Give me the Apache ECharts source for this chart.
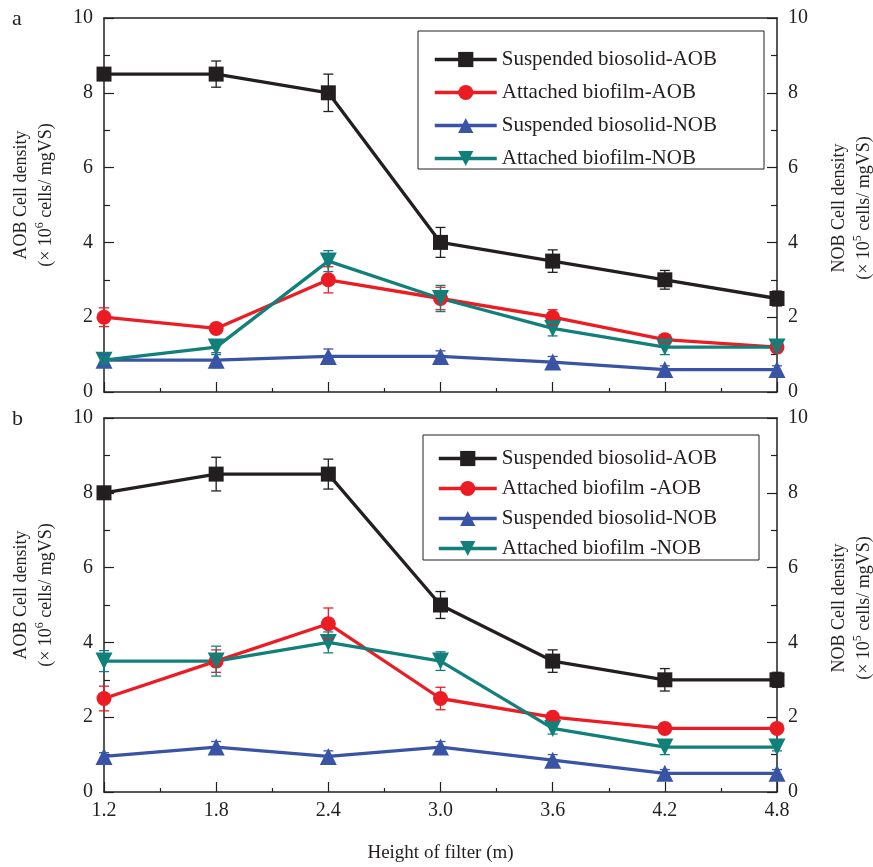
<!DOCTYPE html>
<html>
<head>
<meta charset="utf-8">
<script src="https://cdn.jsdelivr.net/npm/echarts@6/dist/echarts.min.js"></script>
<style>
html,body{margin:0;padding:0;background:#fff;}
#chart{width:873px;height:867px;}
</style>
</head>
<body>
<div id="chart"></div>
<script>
// ---- data ----
const heights = [1.2, 1.8, 2.4, 3.0, 3.6, 4.2, 4.8];
const yTicks = [0, 2, 4, 6, 8, 10];

const namesA = ['Suspended biosolid-AOB', 'Attached biofilm-AOB', 'Suspended biosolid-NOB', 'Attached biofilm-NOB'];
const namesB = ['Suspended biosolid-AOB', 'Attached biofilm -AOB', 'Suspended biosolid-NOB', 'Attached biofilm -NOB'];

// panel a
const a_suspAOB = [8.5, 8.5, 8.0, 4.0, 3.5, 3.0, 2.5];
const a_suspAOB_err = [0.1, 0.35, 0.5, 0.4, 0.3, 0.25, 0.2];
const a_attAOB = [2.0, 1.7, 3.0, 2.5, 2.0, 1.4, 1.2];
const a_attAOB_err = [0.25, 0.1, 0.35, 0.3, 0.2, 0.1, 0.1];
const a_suspNOB = [0.85, 0.85, 0.95, 0.95, 0.8, 0.6, 0.6];
const a_suspNOB_err = [0.15, 0.2, 0.2, 0.15, 0.15, 0.1, 0.1];
const a_attNOB = [0.85, 1.2, 3.5, 2.5, 1.7, 1.2, 1.2];
const a_attNOB_err = [0.1, 0.2, 0.28, 0.35, 0.2, 0.2, 0.1];

// panel b
const b_suspAOB = [8.0, 8.5, 8.5, 5.0, 3.5, 3.0, 3.0];
const b_suspAOB_err = [0.1, 0.45, 0.4, 0.36, 0.3, 0.3, 0.2];
const b_attAOB = [2.5, 3.5, 4.5, 2.5, 2.0, 1.7, 1.7];
const b_attAOB_err = [0.33, 0.3, 0.42, 0.3, 0.1, 0.1, 0.1];
const b_suspNOB = [0.95, 1.2, 0.95, 1.2, 0.85, 0.5, 0.5];
const b_suspNOB_err = [0.1, 0.15, 0.15, 0.15, 0.15, 0.1, 0.1];
const b_attNOB = [3.5, 3.5, 4.0, 3.5, 1.7, 1.2, 1.2];
const b_attNOB_err = [0.28, 0.4, 0.28, 0.25, 0.15, 0.2, 0.1];

// ---- styling ----
const FONT = '"Liberation Serif", "Times New Roman", serif';
const INK = '#231f20';
const C_BLACK = '#231f20', C_RED = '#ec1c24', C_BLUE = '#3a54a5', C_TEAL = '#11807a';

function pairs(vals) { return heights.map((h, i) => [h, vals[i]]); }

function lineSeries(name, xi, yi, vals, color, symbol, size, rotate) {
  return {
    type: 'line', name: name, xAxisIndex: xi, yAxisIndex: yi,
    data: pairs(vals), symbol: symbol, symbolSize: size, symbolRotate: rotate || 0,
    showSymbol: true, clip: false,
    lineStyle: { color: color, width: 3.3 },
    itemStyle: { color: color, borderWidth: 0 },
    emphasis: { disabled: true }, z: 2
  };
}

function errSeries(xi, yi, vals, errs, color) {
  return {
    type: 'custom', xAxisIndex: xi, yAxisIndex: yi, silent: true, z: 3, clip: false,
    data: heights.map((h, i) => [h, vals[i] - errs[i], vals[i] + errs[i]]),
    encode: { x: 0, y: [1, 2] },
    renderItem: function (params, api) {
      const x = api.value(0);
      const lo = api.coord([x, api.value(1)]);
      const hi = api.coord([x, api.value(2)]);
      const w = 5;
      const st = { stroke: color, lineWidth: 1.3 };
      return {
        type: 'group', children: [
          { type: 'line', shape: { x1: lo[0], y1: lo[1], x2: hi[0], y2: hi[1] }, style: st },
          { type: 'line', shape: { x1: lo[0] - w, y1: lo[1], x2: lo[0] + w, y2: lo[1] }, style: st },
          { type: 'line', shape: { x1: hi[0] - w, y1: hi[1], x2: hi[0] + w, y2: hi[1] }, style: st }
        ]
      };
    }
  };
}

function xAxisBottom(gi, showLabels) {
  return {
    type: 'value', gridIndex: gi, position: 'bottom', min: 1.2, max: 4.8, interval: 0.6,
    axisLine: { show: true, onZero: false, lineStyle: { color: INK, width: 1.5 } },
    axisTick: { show: true, inside: true, length: 10, lineStyle: { color: INK, width: 1.2 } },
    minorTick: { show: true, splitNumber: 2, length: 4, lineStyle: { color: INK, width: 1.2 } },
    splitLine: { show: false }, minorSplitLine: { show: false },
    axisLabel: { show: showLabels, margin: 9, fontFamily: FONT, fontSize: 20, color: INK,
      formatter: v => Number(v).toFixed(1) },
    name: showLabels ? 'Height of filter (m)' : '',
    nameLocation: 'middle', nameGap: 52,
    nameTextStyle: { fontFamily: FONT, fontSize: 19, color: INK }
  };
}
function xAxisTop(gi) {
  return {
    type: 'value', gridIndex: gi, position: 'top', min: 1.2, max: 4.8, interval: 0.6,
    axisLine: { show: true, onZero: false, lineStyle: { color: INK, width: 1.5 } },
    axisTick: { show: false }, axisLabel: { show: false }, splitLine: { show: false }
  };
}
function yAxis(gi, pos) {
  return {
    type: 'value', gridIndex: gi, position: pos, min: yTicks[0], max: yTicks[yTicks.length - 1], interval: 2,
    axisLine: { show: true, onZero: false, lineStyle: { color: INK, width: 1.5 } },
    axisTick: { show: true, inside: true, length: 10, lineStyle: { color: INK, width: 1.2 } },
    minorTick: { show: true, splitNumber: 2, length: 6, lineStyle: { color: INK, width: 1.2 } },
    splitLine: { show: false }, minorSplitLine: { show: false },
    axisLabel: { show: true, margin: 11, fontFamily: FONT, fontSize: 20, color: INK }
  };
}

function legendBox(names, top, left, pad, gap, itemWidth, fs) {
  return {
    data: names, orient: 'vertical', left: left, top: top,
    padding: pad, itemGap: gap, itemWidth: itemWidth, itemHeight: 19,
    borderColor: INK, borderWidth: 1, backgroundColor: '#fff',
    selectedMode: false,
    lineStyle: { width: 3.5 },
    textStyle: { fontFamily: FONT, fontSize: fs, color: INK, lineHeight: 21 }
  };
}

function yTitle(x, y, axisName, exp) {
  return {
    type: 'text', x: x, y: y, rotation: Math.PI / 2,
    style: {
      text: '{a|' + axisName + ' Cell density}\n{a|(× 10}{s|' + exp + '}{a| cells/ mgVS)}',
      align: 'center', verticalAlign: 'middle', fill: INK,
      rich: {
        a: { fontFamily: FONT, fontSize: 18, lineHeight: 25, fill: INK },
        s: { fontFamily: FONT, fontSize: 12, lineHeight: 16, verticalAlign: 'top', fill: INK }
      }
    }
  };
}

const option = {
  backgroundColor: '#fff',
  animation: false,
  grid: [
    { left: 104, right: 96, top: 18, height: 374 },
    { left: 104, right: 96, top: 418, height: 374 }
  ],
  xAxis: [xAxisBottom(0, false), xAxisTop(0), xAxisBottom(1, true), xAxisTop(1)],
  yAxis: [yAxis(0, 'left'), yAxis(0, 'right'), yAxis(1, 'left'), yAxis(1, 'right')],
  legend: [
    legendBox(namesA, 31, 418, [18, 47, 0, 15], 12, 62, 21),
    legendBox(namesB, 435, 423, [13, 42, 1, 14], 9, 58, 21)
  ],
  graphic: [
    { type: 'text', x: 12, y: 8, style: { text: 'a', fontFamily: FONT, fontSize: 22, fill: INK } },
    { type: 'text', x: 12, y: 408, style: { text: 'b', fontFamily: FONT, fontSize: 22, fill: INK } },
    yTitle(34, 195, 'AOB', '6'),
    yTitle(34, 595, 'AOB', '6'),
    yTitle(852, 208, 'NOB', '5'),
    yTitle(852, 608, 'NOB', '5')
  ],
  series: [
    lineSeries(namesA[0], 0, 0, a_suspAOB, C_BLACK, 'rect', 15),
    lineSeries(namesA[1], 0, 0, a_attAOB, C_RED, 'circle', 15),
    lineSeries(namesA[2], 0, 1, a_suspNOB, C_BLUE, 'triangle', 17),
    lineSeries(namesA[3], 0, 1, a_attNOB, C_TEAL, 'triangle', 17, 180),
    errSeries(0, 0, a_suspAOB, a_suspAOB_err, C_BLACK),
    errSeries(0, 0, a_attAOB, a_attAOB_err, C_RED),
    errSeries(0, 1, a_suspNOB, a_suspNOB_err, C_BLUE),
    errSeries(0, 1, a_attNOB, a_attNOB_err, C_TEAL),

    lineSeries(namesB[0], 2, 2, b_suspAOB, C_BLACK, 'rect', 15),
    lineSeries(namesB[1], 2, 2, b_attAOB, C_RED, 'circle', 15),
    lineSeries(namesB[2], 2, 3, b_suspNOB, C_BLUE, 'triangle', 17),
    lineSeries(namesB[3], 2, 3, b_attNOB, C_TEAL, 'triangle', 17, 180),
    errSeries(2, 2, b_suspAOB, b_suspAOB_err, C_BLACK),
    errSeries(2, 2, b_attAOB, b_attAOB_err, C_RED),
    errSeries(2, 3, b_suspNOB, b_suspNOB_err, C_BLUE),
    errSeries(2, 3, b_attNOB, b_attNOB_err, C_TEAL)
  ]
};

const chart = echarts.init(document.getElementById('chart'), null, { renderer: 'canvas' });
chart.setOption(option);
</script>
</body>
</html>
